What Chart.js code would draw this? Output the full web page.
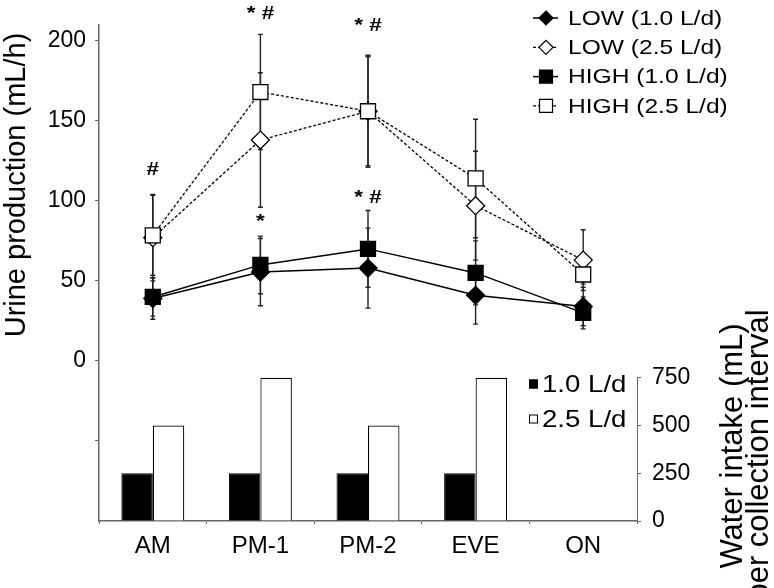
<!DOCTYPE html>
<html>
<head>
<meta charset="utf-8">
<script src="https://cdn.jsdelivr.net/npm/chart.js@4.4.0/dist/chart.umd.min.js"></script>
<style>
  html, body { margin: 0; padding: 0; background: #fff; }
  #wrap { width: 774px; height: 588px; }
</style>
</head>
<body>
<div id="wrap"><canvas id="urineChart" width="774" height="588"></canvas></div>
<script>
const periods = ['AM', 'PM-1', 'PM-2', 'EVE', 'ON'];

// urine production (mL/h), mean and SD
const low10 = [39, 55.5, 58, 41, 34];
const low10Err = [13, 21, 25, 18, 12];
const low25 = [77, 138, 156, 97, 63];
const low25Err = [27, 42, 35, 34, 19];
const high10 = [40, 60, 70, 55, 30];
const high10Err = [12, 18, 24, 20, 10];
const high25 = [78.5, 168, 156, 114, 54];
const high25Err = [25, 36, 34, 37, 6];

// water intake per collection interval (mL)
const intake10 = [250, 250, 250, 250, null];
const intake25 = [500, 750, 500, 750, null];

const urineTicks = [-50, 0, 50, 100, 150, 200];
const intakeTicks = [0, 250, 500, 750];

// significance marks: category index, value they sit at, text
const sigMarks = [
  [0, 119, '#'],
  [1, 217, '* #'],
  [1, 87, '*'],
  [2, 209, '* #'],
  [2, 102, '* #']
];

const FONT = '"Liberation Sans", Arial, sans-serif';
Chart.defaults.font.family = FONT;
Chart.defaults.color = '#000';

function drawMarker(ctx, style, x, y, r, fill) {
  ctx.beginPath();
  if (style === 'rectRot') {
    ctx.moveTo(x, y - r);
    ctx.lineTo(x + r, y);
    ctx.lineTo(x, y + r);
    ctx.lineTo(x - r, y);
  } else {
    const h = r * Math.SQRT1_2;
    ctx.rect(x - h, y - h, 2 * h, 2 * h);
  }
  ctx.closePath();
  ctx.fillStyle = fill;
  ctx.fill();
  ctx.lineWidth = 1.2;
  ctx.strokeStyle = '#000';
  ctx.stroke();
}

// text drawn a bit wider, like the original figure
function wideText(ctx, text, x, y, sx) {
  ctx.save();
  ctx.translate(x, y);
  ctx.scale(sx, 1);
  ctx.fillText(text, 0, 0);
  ctx.restore();
}

const errorBars = {
  id: 'errorBars',
  beforeDatasetsDraw(chart) {
    const ctx = chart.ctx;
    const y = chart.scales.y;
    ctx.save();
    ctx.strokeStyle = '#222';
    ctx.lineWidth = 1.4;
    chart.data.datasets.forEach((ds, di) => {
      if (!ds.errors) return;
      const meta = chart.getDatasetMeta(di);
      ds.data.forEach((v, i) => {
        const x = meta.data[i].x;
        const top = y.getPixelForValue(v + ds.errors[i]);
        const bot = y.getPixelForValue(v - ds.errors[i]);
        ctx.beginPath();
        ctx.moveTo(x, top); ctx.lineTo(x, bot);
        ctx.moveTo(x - 2.5, top); ctx.lineTo(x + 2.5, top);
        ctx.moveTo(x - 2.5, bot); ctx.lineTo(x + 2.5, bot);
        ctx.stroke();
      });
    });
    ctx.restore();
  }
};

const extras = {
  id: 'extras',
  afterDraw(chart) {
    const ctx = chart.ctx;
    const xs = chart.scales.x, ys = chart.scales.y, y2 = chart.scales.y2;
    ctx.save();

    // right axis line, only over the intake range
    ctx.strokeStyle = '#666';
    ctx.lineWidth = 1;
    ctx.beginPath();
    ctx.moveTo(y2.left + 0.5, y2.getPixelForValue(0));
    ctx.lineTo(y2.left + 0.5, y2.getPixelForValue(intakeTicks[intakeTicks.length - 1]));
    ctx.stroke();

    // significance marks
    ctx.fillStyle = '#000';
    ctx.font = 'bold 18px ' + FONT;
    ctx.textAlign = 'center';
    ctx.textBaseline = 'middle';
    sigMarks.forEach(([i, v, t]) => {
      wideText(ctx, t, xs.getPixelForValue(i), ys.getPixelForValue(v), 1.25);
    });

    // line legend
    ctx.font = '21px ' + FONT;
    ctx.textAlign = 'left';
    const lines = chart.data.datasets.filter(d => d.type === 'line');
    lines.forEach((d, k) => {
      const ly = 18 + k * 29.3;
      ctx.save();
      ctx.strokeStyle = '#000';
      ctx.lineWidth = d.borderWidth;
      ctx.setLineDash(d.borderDash || []);
      ctx.beginPath();
      ctx.moveTo(533, ly); ctx.lineTo(558, ly);
      ctx.stroke();
      ctx.setLineDash([]);
      drawMarker(ctx, d.pointStyle, 546, ly, d.pointStyle === 'rect' ? 9.2 : 7, d.pointBackgroundColor);
      ctx.restore();
      ctx.fillStyle = '#000';
      wideText(ctx, d.label, 568, ly + 1, 1.17);
    });

    // bar legend
    ctx.font = '24px ' + FONT;
    const bars = chart.data.datasets.filter(d => d.type === 'bar');
    bars.forEach((d, k) => {
      const ly = 384 + k * 35;
      ctx.fillStyle = d.backgroundColor;
      ctx.fillRect(529, ly - 4.5, 9, 9);
      ctx.strokeStyle = '#000';
      ctx.lineWidth = 1;
      ctx.strokeRect(529.5, ly - 4, 8, 8);
      ctx.fillStyle = '#000';
      wideText(ctx, d.label, 542, ly + 1, 1.15);
    });

    // axis titles
    ctx.textAlign = 'center';
    ctx.textBaseline = 'alphabetic';
    ctx.font = '29px ' + FONT;
    ctx.save();
    ctx.translate(25, 185);
    ctx.rotate(-Math.PI / 2);
    ctx.fillText('Urine production (mL/h)', 0, 0);
    ctx.restore();

    ctx.font = '31px ' + FONT;
    ctx.save();
    ctx.translate(742, 446);
    ctx.rotate(-Math.PI / 2);
    ctx.fillText('Water intake (mL)', 0, 0);
    ctx.restore();
    ctx.save();
    ctx.translate(768, 455);
    ctx.rotate(-Math.PI / 2);
    ctx.fillText('per collection interval', 0, 0);
    ctx.restore();

    ctx.restore();
  }
};

function lineSet(label, data, errors, style, filled, dashed, order) {
  return {
    type: 'line',
    label: label,
    data: data,
    errors: errors,
    yAxisID: 'y',
    order: order,
    borderColor: '#000',
    borderWidth: dashed ? 1.3 : 1.5,
    borderDash: dashed ? [3, 2] : [],
    pointStyle: style,
    pointRadius: style === 'rect' ? 10.6 : 9,
    pointBackgroundColor: filled ? '#000' : '#fff',
    pointBorderColor: '#000',
    pointBorderWidth: 1.3,
    fill: false,
    tension: 0
  };
}

new Chart(document.getElementById('urineChart'), {
  type: 'bar',
  data: {
    labels: periods,
    datasets: [
      lineSet('LOW (1.0 L/d)', low10, low10Err, 'rectRot', true, false, 3),
      lineSet('LOW (2.5 L/d)', low25, low25Err, 'rectRot', false, true, 2),
      lineSet('HIGH (1.0 L/d)', high10, high10Err, 'rect', true, false, 1),
      lineSet('HIGH (2.5 L/d)', high25, high25Err, 'rect', false, true, 0),
      {
        type: 'bar', label: '1.0 L/d', data: intake10, yAxisID: 'y2', order: 5,
        backgroundColor: '#000', borderColor: '#000', borderWidth: 1,
        barPercentage: 1, categoryPercentage: 0.585
      },
      {
        type: 'bar', label: '2.5 L/d', data: intake25, yAxisID: 'y2', order: 6,
        backgroundColor: '#fff', borderColor: '#000', borderWidth: 1.2,
        barPercentage: 1, categoryPercentage: 0.585
      }
    ]
  },
  options: {
    responsive: false,
    animation: false,
    layout: { padding: { top: 20, left: 0, right: 0, bottom: 0 } },
    plugins: { legend: { display: false }, tooltip: { enabled: false } },
    scales: {
      x: {
        grid: { drawOnChartArea: false, tickLength: 3, color: '#666', offset: true },
        border: { color: '#666', width: 1.5 },
        ticks: { color: '#000', font: { size: 24 }, padding: 8, maxRotation: 0 },
        afterFit: s => { s.height = 67; }
      },
      y: {
        position: 'left',
        min: -100,
        max: 210,
        afterBuildTicks: s => { s.ticks = urineTicks.map(v => ({ value: v })); },
        ticks: { color: '#000', font: { size: 23 }, padding: 9, callback: v => (v >= 0 ? v : '') },
        grid: { drawOnChartArea: false, tickLength: 4, color: '#666' },
        border: { color: '#666', width: 1.5 },
        afterFit: s => { s.width = 99; }
      },
      y2: {
        position: 'right',
        min: 0,
        max: 2600,
        afterBuildTicks: s => { s.ticks = intakeTicks.map(v => ({ value: v })); },
        ticks: { color: '#000', font: { size: 23 }, padding: 11 },
        grid: { drawOnChartArea: false, tickLength: 4, color: '#666' },
        border: { display: false },
        afterFit: s => { s.width = 137; }
      }
    }
  },
  plugins: [errorBars, extras]
});
</script>
</body>
</html>
